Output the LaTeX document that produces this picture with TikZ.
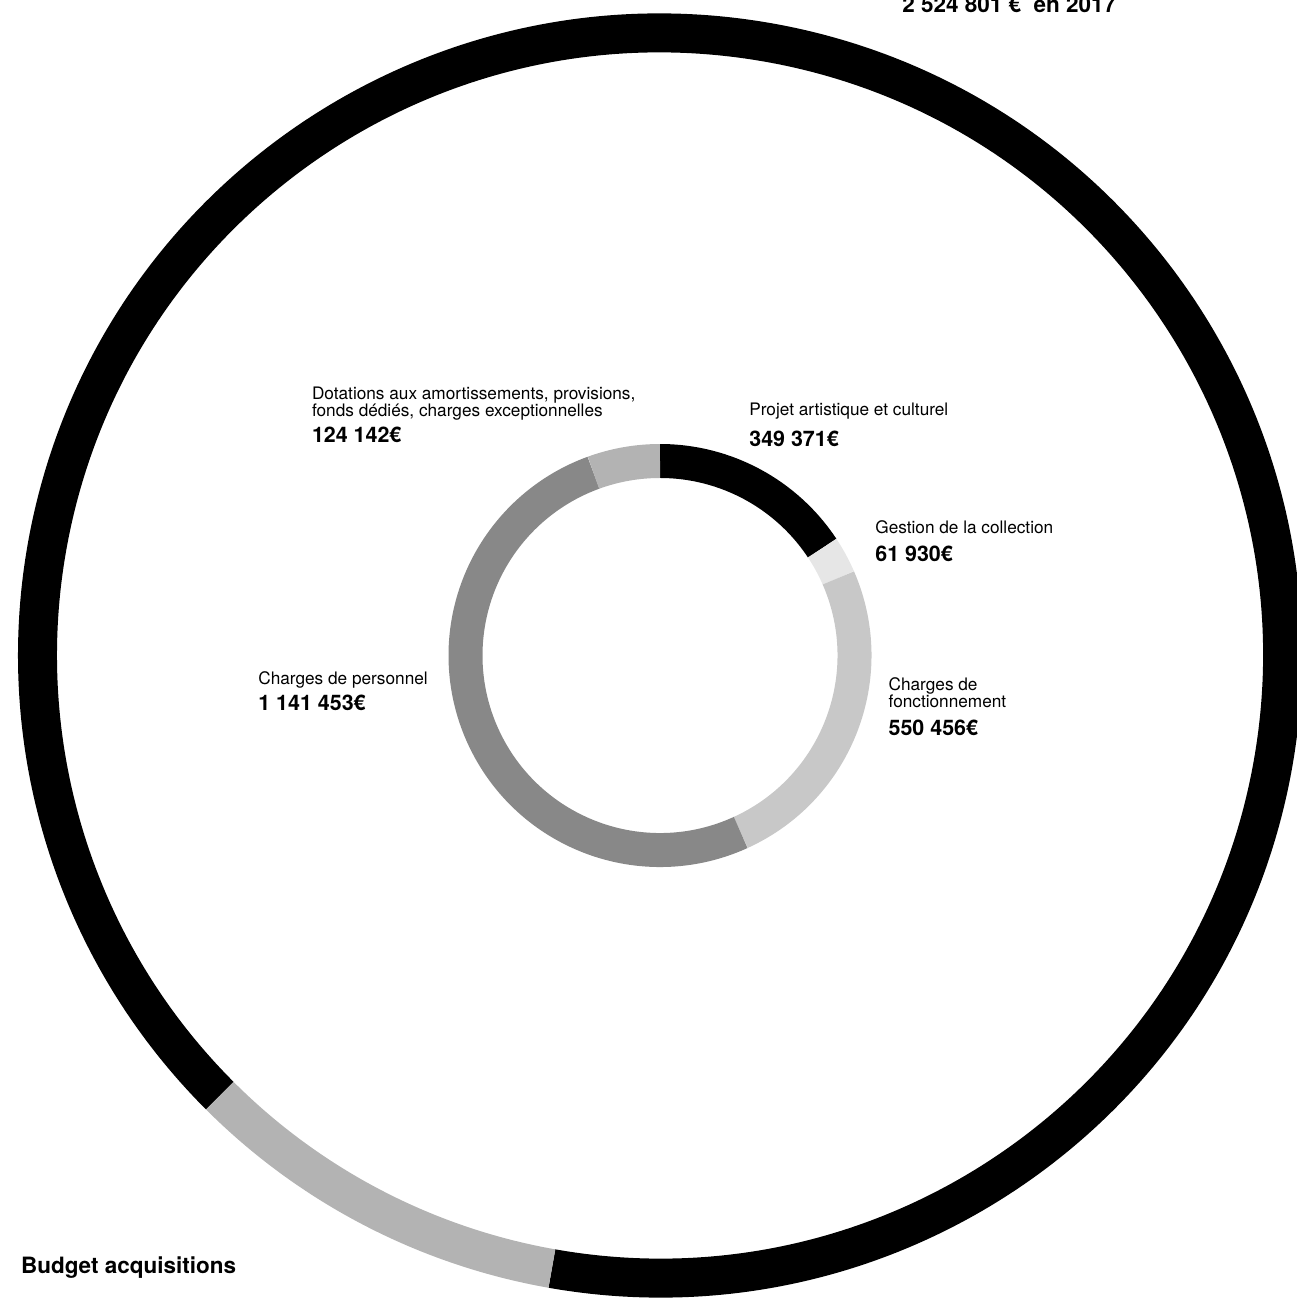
\documentclass[tikz,border=0pt]{standalone}
\usepackage{fontspec}
\setmainfont{TeX Gyre Heros}
\usepackage{xcolor}
\usetikzlibrary{positioning}

\definecolor{grisclair}{HTML}{E6E6E6}
\definecolor{grismoyen}{HTML}{C8C8C8}
\definecolor{grisfonce}{HTML}{888888}
\definecolor{grisacq}{HTML}{B3B3B3}

\tikzset{
  poste/.style={anchor=base west, inner sep=0pt, align=left, font=\fontsize{9.8}{9.7}\selectfont},
  montant/.style={anchor=base west, inner sep=0pt, font=\fontsize{12.2}{14}\selectfont\bfseries},
  titre/.style={anchor=base west, inner sep=0pt, font=\fontsize{12.8}{15}\selectfont\bfseries},
  anneau/.style={line width=0.78cm},
  couronne/.style={line width=0.68cm}
}

\begin{document}
\begin{tikzpicture}[x=0.02cm, y=0.02cm]
    \useasboundingbox (-660,-642.5) rectangle (637,655.5);

    % Outer ring: total budget
    \draw[anneau, black] (260:622.5) arc[start angle=260, end angle=585, radius=622.5];
    \draw[anneau, grisacq] (225:622.5) arc[start angle=225, end angle=260, radius=622.5];

    % Inner ring: split of the expenses
    \foreach \a/\b/\c in {90/33.5/black, 33.5/23.5/grisclair, 23.5/-65.5/grismoyen, -65.5/-250/grisfonce, 110/90/grisacq}
        \draw[couronne, \c] (\a:194.5) arc[start angle=\a, end angle=\b, radius=194.5];

    % Labels
    \node[titre] (total) at (242,643.2) {2 524 801 €~ en 2017};
    \node[titre] (acquis) at (-639.3,-617.8) {Budget acquisitions};

    \node[poste] (dotations) at (-348.3,238.8) {Dotations aux amortissements, provisions,\\fonds dédiés, charges exceptionnelles};
    \node[montant] (dotationsval) at (-348.3,212.5) {124 142€};

    \node[poste] (projet) at (89,239.8) {Projet artistique et culturel};
    \node[montant] (projetval) at (89,208.8) {349 371€};

    \node[poste] (gestion) at (215,122.2) {Gestion de la collection};
    \node[montant] (gestionval) at (215,93.8) {61 930€};

    \node[poste] (personnel) at (-402,-28.5) {Charges de personnel};
    \node[montant] (personnelval) at (-402,-54.5) {1 141 453€};

    \node[poste] (fonct) at (228.3,-51.8) {Charges de\\fonctionnement};
    \node[montant] (fonctval) at (228.3,-79.5) {550 456€};
\end{tikzpicture}
\end{document}
